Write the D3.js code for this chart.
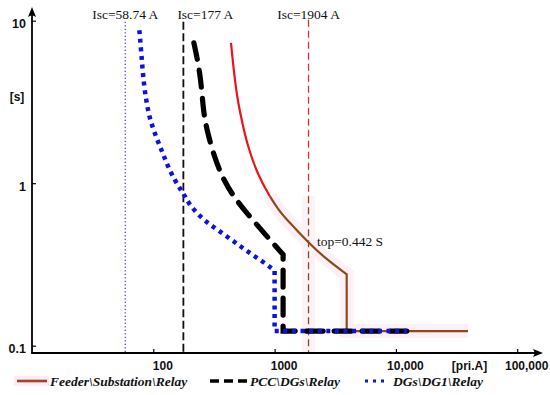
<!DOCTYPE html>
<html><head><meta charset="utf-8">
<script src="https://cdn.jsdelivr.net/npm/d3@7"></script>
<style>body{margin:0;background:#fff}svg{display:block}</style>
</head><body><svg id="c" width="550" height="395"></svg>
<script>
// ---- data ----
const feederCurrent = [437, 457, 494, 536, 589, 734, 916, 1073, 1258, 1904, 2688, 3930, 3930, 39300];
const feederTime    = [7.31, 5.21, 3.25, 2.45, 1.76, 1.10, 0.83, 0.688, 0.597, 0.43, 0.339, 0.275, 0.123, 0.123];
const feederRedEnd = 6; // index where red part turns brown
const pccCurrent = [216, 235, 250, 258, 276, 312, 366, 457, 589, 861, 1175, 1175, 12300];
const pccTime    = [7.31, 5.46, 3.93, 2.82, 2.13, 1.53, 1.10, 0.83, 0.656, 0.472, 0.364, 0.123, 0.123];
const dgCurrent = [76.7, 79.2, 81.2, 83.8, 88.2, 93.9, 106.6, 120.9, 137.3, 162.9, 180, 194, 243, 310, 405, 519, 664, 865, 1000, 1000, 12300];
const dgTime    = [8.74, 6.66, 5.21, 4.02, 3.10, 2.45, 1.89, 1.50, 1.18, 0.942, 0.85, 0.756, 0.62, 0.54, 0.47, 0.41, 0.36, 0.316, 0.29, 0.123, 0.123];
const iscValues = [58.74, 177, 1904];
const iscLabels = ["Isc=58.74 A", "Isc=177 A", "Isc=1904 A"];
const xTicks = [100, 1000, 10000, 100000];
const xTickLabels = ["100", "1000", "10,000", "100,000"];
const yTicks = [0.1, 1, 10];
const yTickLabels = ["0.1", "1", "10"];
const topLabel = "top=0.442 S";
const legendLabels = ["Feeder\\Substation\\Relay", "PCC\\DGs\\Relay", "DGs\\DG1\\Relay"];

// ---- layout ----
const svg = d3.select("#c");
const x = d3.scaleLog().domain([10, 100000]).range([32, 517.2]);
const y = d3.scaleLog().domain([0.1, 10]).range([345.7, 20.7]);
const axisY = 353, axisX = 32;
const serif = "'Liberation Serif', 'Times New Roman', serif";
const sans = "'Liberation Sans', Arial, sans-serif";

const pts = (I, T) => I.map((v, i) => [x(v), y(T[i])]);
const curveGen = d3.line().curve(d3.curveBasis);
const linGen = d3.line();
function relayPath(P) {
  const n = P.length;
  const c = curveGen(P.slice(0, n - 2));
  const s = linGen(P.slice(n - 3)).replace(/^M[^L]*/, "");
  return c + s;
}

const fP = pts(feederCurrent, feederTime);
const redP = fP.slice(0, feederRedEnd + 1);
const brownP = fP.slice(feederRedEnd);
const brownTop = y(feederTime[feederRedEnd]);

// pink halo
svg.append("path").attr("d", relayPath(brownP)).attr("fill", "none")
  .attr("stroke", "#fef0f9").attr("stroke-width", 14).attr("stroke-linejoin", "miter");
svg.append("line").attr("x1", x(iscValues[2])).attr("x2", x(iscValues[2]))
  .attr("y1", brownTop).attr("y2", axisY).attr("stroke", "#fef2f9").attr("stroke-width", 13);

// Isc lines
const iscStyles = [
  {c: "#4a4ad8", w: 1.3, d: "1.3,2.2"},
  {c: "#111", w: 1.8, d: "8,3.5"},
  {c: "#d8303a", w: 1.3, d: "7,4"}
];
iscValues.forEach((v, i) => {
  const st = iscStyles[i];
  if (i === 2) {
    svg.append("line").attr("x1", x(v)).attr("x2", x(v)).attr("y1", y(10) - 1).attr("y2", brownTop)
      .attr("stroke", st.c).attr("stroke-width", st.w).attr("stroke-dasharray", st.d);
    svg.append("line").attr("x1", x(v)).attr("x2", x(v)).attr("y1", brownTop).attr("y2", axisY)
      .attr("stroke", "#8a4a20").attr("stroke-width", st.w).attr("stroke-dasharray", st.d);
  } else {
    svg.append("line").attr("x1", x(v)).attr("x2", x(v)).attr("y1", y(10) + 1).attr("y2", axisY)
      .attr("stroke", st.c).attr("stroke-width", st.w).attr("stroke-dasharray", st.d);
  }
});
const iscAnchor = ["middle", "start", "middle"];
const iscDx = [0, -6, 0];
iscValues.forEach((v, i) => {
  svg.append("text").attr("x", x(v) + iscDx[i]).attr("y", 18.5).attr("text-anchor", iscAnchor[i])
    .attr("font-family", serif).attr("font-size", 13.5).attr("fill", "#111").text(iscLabels[i]);
});

// feeder curve
svg.append("path").attr("d", curveGen(redP)).attr("fill", "none")
  .attr("stroke", "#e8141c").attr("stroke-width", 2.2);
svg.append("path").attr("d", relayPath(brownP)).attr("fill", "none")
  .attr("stroke", "#8f4a1a").attr("stroke-width", 2.2);

// pcc curve
svg.append("path").attr("d", relayPath(pts(pccCurrent, pccTime))).attr("fill", "none")
  .attr("stroke", "#000").attr("stroke-width", 5.2).attr("stroke-dasharray", "17,11")
  .attr("stroke-linecap", "round");

// dg curve
svg.append("path").attr("d", relayPath(pts(dgCurrent, dgTime))).attr("fill", "none")
  .attr("stroke", "#0a12e6").attr("stroke-width", 4.5).attr("stroke-dasharray", "4,4.6");

// top label
svg.append("text").attr("x", 317).attr("y", 246).attr("font-family", serif).attr("font-size", 13.5)
  .attr("fill", "#111").text(topLabel);

// axes
const xAxis = d3.axisBottom(x).tickValues(xTicks).tickSize(-4).tickPadding(8)
  .tickFormat((d, i) => xTickLabels[i]);
const gx = svg.append("g").attr("transform", `translate(0,${axisY})`).call(xAxis);
gx.select(".domain").remove();
gx.selectAll(".tick line").attr("stroke", "#000").attr("stroke-width", 1.2);
gx.selectAll("text").attr("font-family", sans).attr("font-weight", "bold").attr("font-size", 12)
  .attr("fill", "#111").attr("dx", 9);

const yAxis = d3.axisLeft(y).tickValues(yTicks).tickSize(-4).tickPadding(6)
  .tickFormat((d, i) => yTickLabels[i]);
const gy = svg.append("g").attr("transform", `translate(${axisX},0)`).call(yAxis);
gy.select(".domain").remove();
gy.selectAll(".tick line").attr("stroke", "#000").attr("stroke-width", 1.2);
gy.selectAll("text").attr("font-family", sans).attr("font-weight", "bold").attr("font-size", 12.5)
  .attr("fill", "#111").attr("dy", "0.55em");

svg.append("line").attr("x1", axisX).attr("x2", 536).attr("y1", axisY).attr("y2", axisY)
  .attr("stroke", "#000").attr("stroke-width", 1.8);
svg.append("path").attr("d", `M543,${axisY}L533,${axisY - 4}L535,${axisY}L533,${axisY + 4}Z`).attr("fill", "#000");
svg.append("line").attr("x1", axisX).attr("x2", axisX).attr("y1", axisY + 1).attr("y2", 14)
  .attr("stroke", "#000").attr("stroke-width", 1.8);
svg.append("path").attr("d", `M${axisX},7L${axisX - 4},17L${axisX},15L${axisX + 4},17Z`).attr("fill", "#000");

svg.append("text").attr("x", 469.5).attr("y", 369.5).attr("text-anchor", "middle").attr("font-family", sans)
  .attr("font-weight", "bold").attr("font-size", 12).attr("fill", "#111").text("[pri.A]");
svg.append("text").attr("x", 17).attr("y", 101).attr("text-anchor", "middle").attr("font-family", sans)
  .attr("font-weight", "bold").attr("font-size", 12).attr("fill", "#111").text("[s]");

// legend
const ly = 381;
svg.append("rect").attr("x", 14).attr("y", ly - 5).attr("width", 35).attr("height", 10).attr("fill", "#fdeaf6");
svg.append("line").attr("x1", 17).attr("x2", 47).attr("y1", ly).attr("y2", ly)
  .attr("stroke", "#a5451f").attr("stroke-width", 2.6);
svg.append("line").attr("x1", 210).attr("x2", 247).attr("y1", ly).attr("y2", ly)
  .attr("stroke", "#000").attr("stroke-width", 3.4).attr("stroke-dasharray", "9,5");
svg.append("line").attr("x1", 365).attr("x2", 386).attr("y1", ly).attr("y2", ly)
  .attr("stroke", "#0a12e6").attr("stroke-width", 3).attr("stroke-dasharray", "3,5");
const legX = [50, 250, 393];
legendLabels.forEach((t, i) => {
  svg.append("text").attr("x", legX[i]).attr("y", ly + 5).attr("font-family", serif)
    .attr("font-weight", "bold").attr("font-style", "italic").attr("font-size", 13.5)
    .attr("fill", "#111").text(t);
});
</script></body></html>
